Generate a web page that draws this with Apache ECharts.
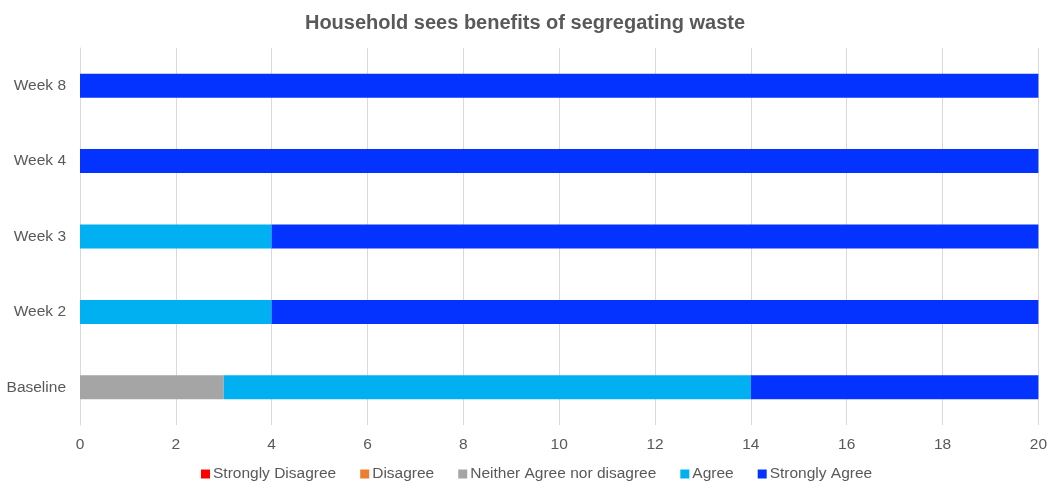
<!DOCTYPE html>
<html>
<head>
<meta charset="utf-8">
<script src="https://cdn.jsdelivr.net/npm/echarts@6/dist/echarts.min.js"></script>
<style>
  html, body { margin: 0; padding: 0; background: #fff; }
  #chart { width: 1050px; height: 485px; }
</style>
</head>
<body>
<div id="chart"></div>
<script>
// Survey responses per round, stacked left to right
const categories = ['Baseline', 'Week 2', 'Week 3', 'Week 4', 'Week 8'];
const stronglyDisagree = [0, 0, 0, 0, 0];
const disagree = [0, 0, 0, 0, 0];
const neither = [3, 0, 0, 0, 0];
const agree = [11, 4, 4, 0, 0];
const stronglyAgree = [6, 16, 16, 20, 20];
const xTicks = [0, 2, 4, 6, 8, 10, 12, 14, 16, 18, 20];

const seriesDefs = [
  { name: 'Strongly Disagree', data: stronglyDisagree, color: '#FF0000' },
  { name: 'Disagree', data: disagree, color: '#ED7D31' },
  { name: 'Neither Agree nor disagree', data: neither, color: '#A5A5A5' },
  { name: 'Agree', data: agree, color: '#00B0F0' },
  { name: 'Strongly Agree', data: stronglyAgree, color: '#0433FF' }
];

const textColor = '#595959';
const font = 'Liberation Sans, Arial, sans-serif';

const chart = echarts.init(document.getElementById('chart'), null, { renderer: 'canvas' });
chart.setOption({
  animation: false,
  textStyle: { fontFamily: font },
  title: {
    text: 'Household sees benefits of segregating waste',
    left: 'center',
    top: 8,
    textStyle: { fontSize: 20, fontWeight: 'bold', color: textColor, fontFamily: font }
  },
  legend: {
    top: 461,
    left: 196,
    itemWidth: 9,
    itemHeight: 9,
    itemGap: 24,
    icon: 'rect',
    textStyle: { fontSize: 15.5, color: textColor, fontFamily: font, padding: [0, 0, 0, -2] },
    data: seriesDefs.map(s => s.name)
  },
  grid: { left: 80, right: 11, top: 48, bottom: 60, containLabel: false },
  xAxis: {
    type: 'value',
    min: xTicks[0],
    max: xTicks[xTicks.length - 1],
    interval: 2,
    axisLine: { show: false },
    axisTick: { show: false },
    splitLine: { lineStyle: { color: '#D9D9D9', width: 1 } },
    axisLabel: { color: textColor, fontSize: 15.5, margin: 12, fontFamily: font }
  },
  yAxis: {
    type: 'category',
    data: categories,
    axisLine: { show: true, lineStyle: { color: '#D9D9D9' } },
    axisTick: { show: false },
    axisLabel: { color: textColor, fontSize: 15.5, margin: 14, fontFamily: font }
  },
  series: seriesDefs.map(s => ({
    name: s.name,
    type: 'bar',
    stack: 'total',
    barWidth: 24,
    data: s.data,
    itemStyle: { color: s.color },
    emphasis: { disabled: true }
  }))
});
</script>
</body>
</html>
